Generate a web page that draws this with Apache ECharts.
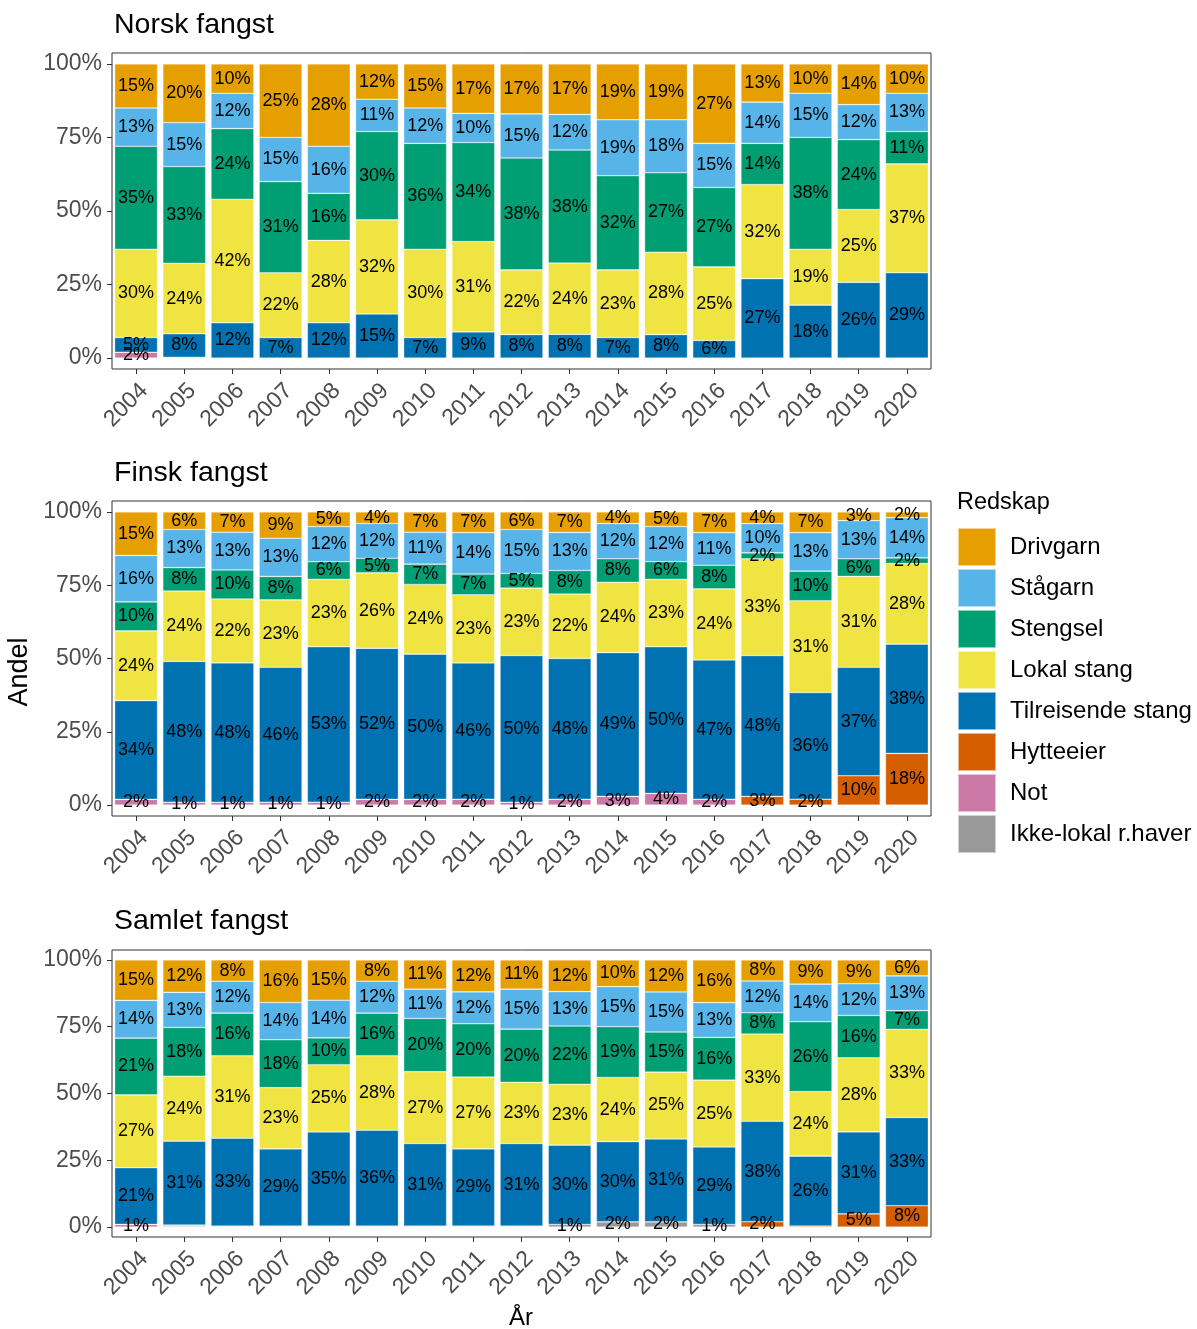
<!DOCTYPE html>
<html><head><meta charset="utf-8">
<script src="https://cdn.jsdelivr.net/npm/echarts@6/dist/echarts.min.js"></script>
<style>html,body{margin:0;padding:0;background:#fff}#c{width:1197px;height:1329px}</style>
</head><body><div id="c"></div>
<script>
const years = ['2004','2005','2006','2007','2008','2009','2010','2011','2012','2013','2014','2015','2016','2017','2018','2019','2020'];
const gearNames = ['Drivgarn','Stågarn','Stengsel','Lokal stang','Tilreisende stang','Hytteeier','Not','Ikke-lokal r.haver'];
const gearColors = ['#E69F00','#56B4E9','#009E73','#F0E442','#0072B2','#D55E00','#CC79A7','#999999'];
const panelTitles = ['Norsk fangst','Finsk fangst','Samlet fangst'];
const yTickValues = [0, 0.25, 0.5, 0.75, 1];

// Norsk fangst (percent)
const norskDrivgarn   = [15,20,10,25,28,12,15,17,17,17,19,19,27,13,10,14,10];
const norskStagarn    = [13,15,12,15,16,11,12,10,15,12,19,18,15,14,15,12,13];
const norskStengsel   = [35,33,24,31,16,30,36,34,38,38,32,27,27,14,38,24,11];
const norskLokal      = [30,24,42,22,28,32,30,31,22,24,23,28,25,32,19,25,37];
const norskTilreisende= [5,8,12,7,12,15,7,9,8,8,7,8,6,27,18,26,29];
const norskHytteeier  = [0,0,0,0,0,0,0,0,0,0,0,0,0,0,0,0,0];
const norskNot        = [2,0.3,0,0,0,0,0,0,0,0,0,0,0,0,0,0,0];
const norskIkkeLokal  = [0,0,0,0,0,0,0,0,0,0,0,0,0,0,0,0,0];

// Finsk fangst (percent)
const finskDrivgarn   = [15,6,7,9,5,4,7,7,6,7,4,5,7,4,7,3,2];
const finskStagarn    = [16,13,13,13,12,12,11,14,15,13,12,12,11,10,13,13,14];
const finskStengsel   = [10,8,10,8,6,5,7,7,5,8,8,6,8,2,10,6,2];
const finskLokal      = [24,24,22,23,23,26,24,23,23,22,24,23,24,33,31,31,28];
const finskTilreisende= [34,48,48,46,53,52,50,46,50,48,49,50,47,48,36,37,38];
const finskHytteeier  = [0,0,0,0,0,0,0,0,0,0,0,0,0,3,2,10,18];
const finskNot        = [2,1,1,1,1,2,2,2,1,2,3,4,2,0,0,0,0];
const finskIkkeLokal  = [0,0,0,0,0,0,0,0,0,0,0,0,0,0,0,0,0];

// Samlet fangst (percent)
const samletDrivgarn   = [15,12,8,16,15,8,11,12,11,12,10,12,16,8,9,9,6];
const samletStagarn    = [14,13,12,14,14,12,11,12,15,13,15,15,13,12,14,12,13];
const samletStengsel   = [21,18,16,18,10,16,20,20,20,22,19,15,16,8,26,16,7];
const samletLokal      = [27,24,31,23,25,28,27,27,23,23,24,25,25,33,24,28,33];
const samletTilreisende= [21,31,33,29,35,36,31,29,31,30,30,31,29,38,26,31,33];
const samletHytteeier  = [0,0,0,0,0,0,0,0,0,0,0,0,0,2,0.4,5,8];
const samletNot        = [1,0.4,0,0,0,0,0,0,0,0,0,0,0,0,0,0,0];
const samletIkkeLokal  = [0,0.4,0.4,0.4,0.4,0.4,0.4,0.4,0.4,1,2,2,1,0,0,0,0];

const panels = [
  [norskDrivgarn,norskStagarn,norskStengsel,norskLokal,norskTilreisende,norskHytteeier,norskNot,norskIkkeLokal],
  [finskDrivgarn,finskStagarn,finskStengsel,finskLokal,finskTilreisende,finskHytteeier,finskNot,finskIkkeLokal],
  [samletDrivgarn,samletStagarn,samletStengsel,samletLokal,samletTilreisende,samletHytteeier,samletNot,samletIkkeLokal]
];

const FONT = "'Liberation Sans', Arial, sans-serif";
const gridBoxes = [
  {left:112, width:819, top:53, height:316},
  {left:112, width:819, top:501, height:315},
  {left:112, width:819, top:950, height:287}
];
const titleY = [25, 473, 921];

const grids = [], xAxes = [], yAxes = [], series = [];
panels.forEach((panel, p) => {
  grids.push(Object.assign({show:true, borderColor:'#333', borderWidth:1, backgroundColor:'transparent'}, gridBoxes[p]));
  xAxes.push({
    type:'category', gridIndex:p, data:years,
    axisLine:{show:false, onZero:false},
    axisTick:{show:true, alignWithLabel:true, length:5, lineStyle:{color:'#333'}},
    axisLabel:{rotate:45, interval:0, fontSize:23, color:'#4D4D4D', fontFamily:FONT, margin:10,
      align:'right', verticalAlign:'top'}
  });
  yAxes.push({
    type:'value', gridIndex:p, min:-0.037, max:1.037,
    axisLine:{show:false},
    splitLine:{show:false},
    axisTick:{show:true, length:5, customValues:yTickValues, lineStyle:{color:'#333'}},
    axisLabel:{customValues:yTickValues, fontSize:23, color:'#4D4D4D', fontFamily:FONT, margin:10,
      formatter:v => Math.round(v*100)+'%'}
  });
  const totals = years.map((_, i) => panel.reduce((s, arr) => s + arr[i], 0));
  // stack bottom to top
  for (let k = gearNames.length - 1; k >= 0; k--) {
    const raw = panel[k];
    series.push({
      type:'bar', name:gearNames[k], xAxisIndex:p, yAxisIndex:p, stack:'s'+p,
      barWidth:'89%',
      itemStyle:{color:gearColors[k], borderColor:'rgba(255,255,255,0.55)', borderWidth:0.6},
      label:{show:true, position:'inside', fontSize:18, color:'#000', fontFamily:FONT,
        formatter:prm => { const r = Math.round(raw[prm.dataIndex]); return r >= 1 ? r+'%' : ''; }},
      emphasis:{disabled:true},
      data: raw.map((v, i) => v / totals[i])
    });
  }
});

const graphics = panelTitles.map((t, i) => ({
  type:'text', x:114, y:titleY[i],
  style:{text:t, fontSize:28.5, fontFamily:FONT, fill:'#000', align:'left', verticalAlign:'middle'}
}));
graphics.push({type:'text', x:957, y:503, style:{text:'Redskap', fontSize:23.5, fontFamily:FONT, fill:'#000', align:'left', verticalAlign:'middle'}});
graphics.push({type:'text', x:20, y:672, rotation:Math.PI/2,
  style:{text:'Andel', fontSize:27, fontFamily:FONT, fill:'#000', align:'center', verticalAlign:'middle'}});
graphics.push({type:'text', x:521, y:1318,
  style:{text:'År', fontSize:24, fontFamily:FONT, fill:'#000', align:'center', verticalAlign:'middle'}});

const chart = echarts.init(document.getElementById('c'), null, {renderer:'canvas'});
chart.setOption({
  animation:false,
  backgroundColor:'#fff',
  grid:grids, xAxis:xAxes, yAxis:yAxes, series:series,
  legend:{
    data:gearNames, orient:'vertical', left:957, top:527, padding:0,
    itemWidth:38, itemHeight:38, itemGap:1, icon:'rect', selectedMode:false,
    textStyle:{fontSize:24, color:'#000', fontFamily:FONT, padding:[0,0,0,9]}
  },
  graphic:graphics
});
</script></body></html>
